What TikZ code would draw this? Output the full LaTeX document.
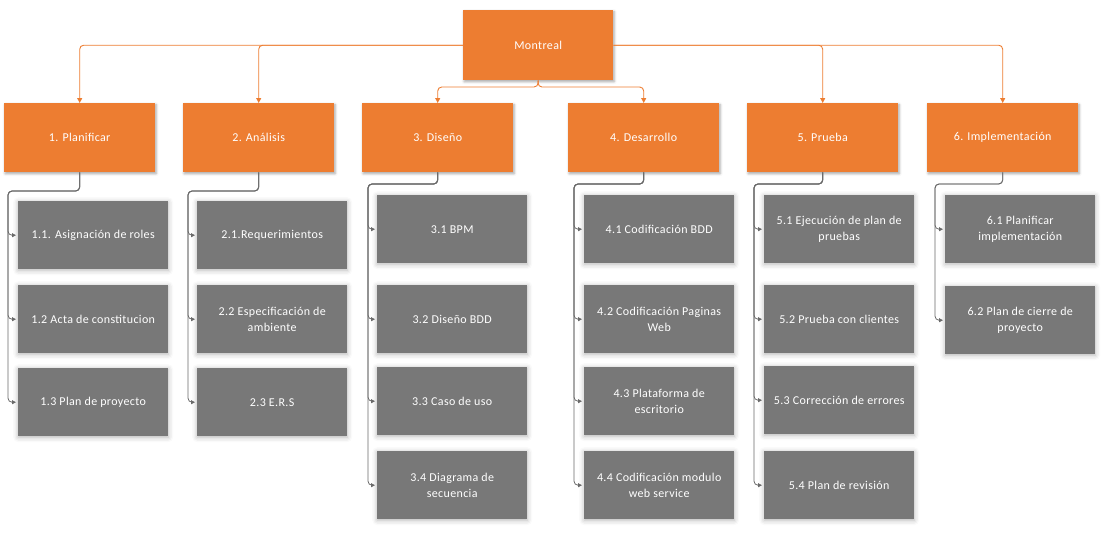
\documentclass[tikz,border=0pt]{standalone}
\usepackage{fontspec}
\setmainfont{Carlito}[LetterSpace=3]
\usetikzlibrary{shadows.blur,arrows.meta}
\definecolor{orng}{HTML}{ED7D31}
\definecolor{gbox}{HTML}{787878}
\definecolor{gline}{HTML}{6A6A6A}
\begin{document}
\begin{tikzpicture}[x=1pt,y=-1pt,
  base/.style={rectangle,anchor=north west,align=center,text=white,inner sep=0pt,
    font=\fontsize{12}{16}\selectfont},
  topbox/.style={base,fill=orng,minimum width=150pt,minimum height=70pt,
    blur shadow={shadow xshift=1pt,shadow yshift=-1.5pt,shadow blur radius=2.5pt,shadow opacity=35}},
  lvlbox/.style={base,fill=orng,minimum width=151pt,minimum height=69pt,
    blur shadow={shadow xshift=1pt,shadow yshift=-1.5pt,shadow blur radius=2.5pt,shadow opacity=35}},
  subbox/.style={base,fill=gbox,minimum width=150pt,minimum height=68pt,
    blur shadow={shadow xshift=0pt,shadow yshift=-1pt,shadow blur radius=5pt,shadow opacity=30}},
  oline/.style={draw=orng,line width=0.9pt,rounded corners=4pt,
    -{Triangle[length=5pt,width=5pt]}},
  gconn/.style={draw=gline,line width=0.8pt,rounded corners=4pt,
    -{Triangle[length=4pt,width=4pt]},shorten >=2pt}
]
\useasboundingbox (0,0) rectangle (1107,539);

% root
\node[topbox] (m) at (463,10) {Montreal};

% level 1
\node[lvlbox] (p1) at (4,103)   {1. Planificar};
\node[lvlbox] (p2) at (183,103) {2. Análisis};
\node[lvlbox] (p3) at (362,103) {3. Diseño};
\node[lvlbox] (p4) at (568,103) {4. Desarrollo};
\node[lvlbox] (p5) at (747,103) {5. Prueba};
\node[lvlbox] (p6) at (927,103) {6. Implementación};

% level 2
\node[subbox] (c11) at (18,201)  {1.1. Asignación de roles};
\node[subbox] (c12) at (18,285)  {1.2 Acta de constitucion};
\node[subbox] (c13) at (18,368)  {1.3 Plan de proyecto};

\node[subbox] (c21) at (197,201) {2.1.Requerimientos};
\node[subbox] (c22) at (197,285) {2.2 Especificación de\\ambiente};
\node[subbox] (c23) at (197,368) {2.3 E.R.S};

\node[subbox] (c31) at (377,195) {3.1 BPM};
\node[subbox] (c32) at (377,285) {3.2 Diseño BDD};
\node[subbox] (c33) at (377,367) {3.3 Caso de uso};
\node[subbox] (c34) at (377,451) {3.4 Diagrama de\\secuencia};

\node[subbox] (c41) at (584,195) {4.1 Codificación BDD};
\node[subbox] (c42) at (584,285) {4.2 Codificación Paginas\\Web};
\node[subbox] (c43) at (584,367) {4.3 Plataforma de\\escritorio};
\node[subbox] (c44) at (584,451) {4.4 Codificación modulo\\web service};

\node[subbox] (c51) at (764,195) {5.1 Ejecución de plan de\\pruebas};
\node[subbox] (c52) at (764,285) {5.2 Prueba con clientes};
\node[subbox] (c53) at (764,366) {5.3 Corrección de errores};
\node[subbox] (c54) at (764,451) {5.4 Plan de revisión};

\node[subbox] (c61) at (945,195) {6.1 Planificar\\implementación};
\node[subbox] (c62) at (945,286) {6.2 Plan de cierre de\\proyecto};

% orange connectors
\coordinate (mb) at (538,87);
\draw[oline] (m.west) -| (p1.north);
\draw[oline] (m.west) -| (p2.north);
\draw[oline] (m.east) -| (p5.north);
\draw[oline] (m.east) -| (p6.north);
\draw[oline] (m.south) -- (mb) -| (p3.north);
\draw[oline] (m.south) -- (mb) -| (p4.north);

% gray connectors
\coordinate (t1) at (8,191);
\coordinate (t2) at (188,191);
\coordinate (t3) at (368,184);
\coordinate (t4) at (574,184);
\coordinate (t5) at (754,184);
\coordinate (t6) at (935,184);

\foreach \c in {c11,c12,c13} \draw[gconn] (p1.south) |- (t1) |- (\c.west);
\foreach \c in {c21,c22,c23} \draw[gconn] (p2.south) |- (t2) |- (\c.west);
\foreach \c in {c31,c32,c33,c34} \draw[gconn] (p3.south) |- (t3) |- (\c.west);
\foreach \c in {c41,c42,c43,c44} \draw[gconn] (p4.south) |- (t4) |- (\c.west);
\foreach \c in {c51,c52,c53,c54} \draw[gconn] (p5.south) |- (t5) |- (\c.west);
\foreach \c in {c61,c62} \draw[gconn] (p6.south) |- (t6) |- (\c.west);
\end{tikzpicture}
\end{document}
